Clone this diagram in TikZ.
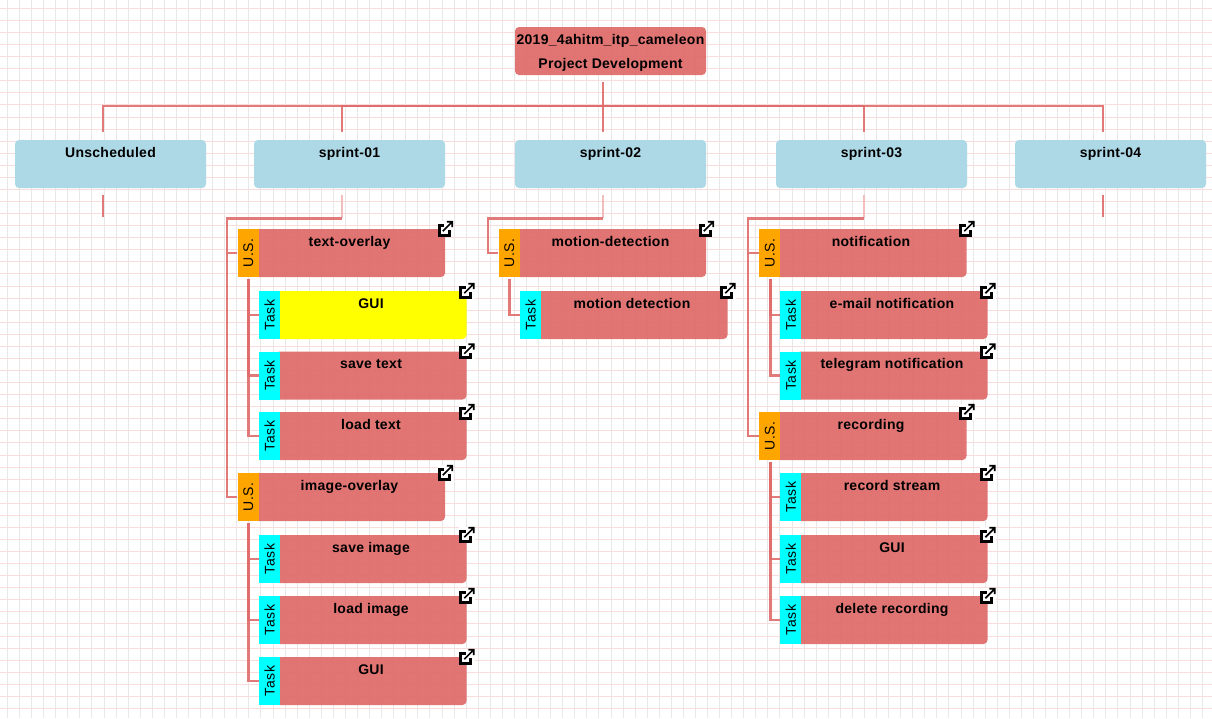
\documentclass[tikz,border=0pt]{standalone}
\usepackage{fontspec}
\setmainfont{Liberation Sans}
\usetikzlibrary{arrows.meta,calc}
\definecolor{cardred}{HTML}{DE6A68}
\definecolor{linkred}{HTML}{E06C6C}
\definecolor{sprintblue}{HTML}{ADD8E6}
\definecolor{usorange}{HTML}{FFA500}
\definecolor{taskcyan}{HTML}{00FFFF}
\definecolor{guiyellow}{HTML}{FFFF00}
\definecolor{gridgrey}{HTML}{E8E8E8}
\definecolor{gridpink}{HTML}{F9DCDC}
\newfontfamily\boldlabel[LetterSpace=2]{Liberation Sans Bold}
\newfontfamily\striplabel[LetterSpace=3]{Liberation Sans}
\tikzset{>=latex}
\tikzset{
  card/.style = {fill=cardred,fill opacity=0.92,text opacity=1,rounded corners=3pt,inner xsep=0pt,inner ysep=0.75pt,
    minimum width=143.25pt,text height=12pt,text depth=22.5pt,font=\boldlabel\fontsize{10.5}{12}\selectfont},
  head/.style = {card,fill=sprintblue,fill opacity=1},
  marked/.style = {fill=guiyellow,fill opacity=1},
  root/.style = {fill=cardred,fill opacity=0.92,text opacity=1,rounded corners=3pt,inner sep=0pt,minimum width=143.25pt,
    minimum height=36pt,align=center,font=\boldlabel\fontsize{10.5}{12}\selectfont},
  strip/.style = {rotate=90,inner sep=0pt,minimum width=36pt,minimum height=15.75pt,font=\striplabel\fontsize{10.5}{12}\selectfont},
  link/.style = {draw=linkred,line width=1.9pt,opacity=0.9},
  stub/.style = {draw=linkred,line width=0.5pt,double=linkred!45,double distance=0.8pt},
  extlink/.pic = {
    \fill [white] (-7.5,-8) rectangle (8.5,8);
    \draw [black,line width=2.3pt] (-1,-3.5) -- (-6,-3.5) -- (-6,6.5) -- (4,6.5) -- (4,1.5);
    \draw [black,line width=1.3pt] (-2.5,2.5) -- (7,-7) (1.5,-7) -- (7,-7) -- (7,-1.5);
  },
}
% one story or task: card with its coloured strip and its corner icon
\newcommand{\usbox}[4]{
  \node [card] (#1) at (#2,#3) {#4};
  \node [strip,fill=usorange] (#1tag) at ([xshift=-4.125pt]#1.west) {U.S.};
  \pic at (#1.north east) {extlink};
}
\newcommand{\task}[5][]{
  \node [card,#1] (#2) at (#3,#4) {#5};
  \node [strip,fill=taskcyan] (#2tag) at ([xshift=-4.125pt]#2.west) {Task};
  \pic at (#2.north east) {extlink};
}
\begin{document}
\begin{tikzpicture}[x=0.75pt,y=-0.75pt]
  \useasboundingbox (0,0) rectangle (1212,718);
  \fill [white] (0,0) rectangle (1212,718);
  % background grid
  \foreach \k in {0,...,100}
    \draw [gridgrey,line width=0.6pt] ({7.4+12.07*\k},0) -- ({7.4+12.07*\k},718);
  \foreach \k in {0,...,59}
    \draw [gridpink,line width=0.6pt] (0,{8.3+12.07*\k}) -- (1212,{8.3+12.07*\k});

  \node [root] (top) at (610.5,51) {\rule{0pt}{1.9ex}2019\_4ahitm\_itp\_cameleon\\[6pt]Project Development};
  \node [head] (unsched) at (110.5,164) {Unscheduled};
  \node [head] (sprinta) at (349.5,164) {sprint-01};
  \node [head] (sprintb) at (610.5,164) {sprint-02};
  \node [head] (sprintc) at (871.5,164) {sprint-03};
  \node [head] (sprintd) at (1110.5,164) {sprint-04};

  \usbox{textov}{349.5}{253}{text-overlay}
  \task[marked]{gui}{371}{315}{GUI}
  \task{savetext}{371}{375.5}{save text}
  \task{loadtext}{371}{436}{load text}
  \usbox{imageov}{349.5}{497}{image-overlay}
  \task{saveimage}{371}{559}{save image}
  \task{loadimage}{371}{620}{load image}
  \task{guib}{371}{681}{GUI}
  \usbox{motion}{610.5}{253}{motion-detection}
  \task{motiontask}{632}{315}{motion detection}
  \usbox{notify}{871}{253}{notification}
  \task{email}{892}{315}{e-mail notification}
  \task{telegram}{892}{375.5}{telegram notification}
  \usbox{recording}{871}{436}{recording}
  \task{stream}{892}{497}{record stream}
  \task{guic}{892}{559}{GUI}
  \task{delrec}{892}{620}{delete recording}

  % tree from the root to the sprints
  \coordinate (bus) at (603,106);
  \draw [link] ([shift={(-7.5,7)}]top.south) -- ([shift={(-7.5,-8)}]sprintb.north);
  \draw [link] ([shift={(-7.5,-8)}]unsched.north) |- (bus) -| ([shift={(-7.5,-8)}]sprintd.north);
  \draw [link] (bus) -| ([shift={(-7.5,-8)}]sprinta.north);
  \draw [link] (bus) -| ([shift={(-7.5,-8)}]sprintc.north);
  \draw [link,line width=1.4pt] ([shift={(-7.5,7)}]unsched.south) -- ([shift={(-7.5,29)}]unsched.south);
  \draw [link,line width=1.4pt] ([shift={(-7.5,7)}]sprintd.south) -- ([shift={(-7.5,29)}]sprintd.south);

  % sprint-01
  \coordinate (sa) at ([shift={(-7.5,30)}]sprinta.south);
  \draw [stub] ([shift={(-7.5,7)}]sprinta.south) -- (sa);
  \draw [link] (sa) -| (227,253) -- (textovtag.north);
  \draw [link] (227,253) |- (imageovtag.north);
  \draw [link] ([shift={(0.5,2)}]textovtag.west) |- (guitag.north);
  \draw [link] ([shift={(0.5,2)}]textovtag.west) |- (savetexttag.north);
  \draw [link] ([shift={(0.5,2)}]textovtag.west) |- (loadtexttag.north);
  \draw [link] ([shift={(0.5,2)}]imageovtag.west) |- (saveimagetag.north);
  \draw [link] ([shift={(0.5,2)}]imageovtag.west) |- (loadimagetag.north);
  \draw [link] ([shift={(0.5,2)}]imageovtag.west) |- (guibtag.north);

  % sprint-02
  \coordinate (sb) at ([shift={(-7.5,30)}]sprintb.south);
  \draw [stub] ([shift={(-7.5,7)}]sprintb.south) -- (sb);
  \draw [link] (sb) -| (488,253) -- (motiontag.north);
  \draw [link] ([shift={(0.5,2)}]motiontag.west) |- (motiontasktag.north);

  % sprint-03
  \coordinate (sc) at ([shift={(-7.5,30)}]sprintc.south);
  \draw [stub] ([shift={(-7.5,7)}]sprintc.south) -- (sc);
  \draw [link] (sc) -| (748,253) -- (notifytag.north);
  \draw [link] (748,253) |- (recordingtag.north);
  \draw [link] ([shift={(0.5,2)}]notifytag.west) |- (emailtag.north);
  \draw [link] ([shift={(0.5,2)}]notifytag.west) |- (telegramtag.north);
  \draw [link] ([shift={(0.5,2)}]recordingtag.west) |- (streamtag.north);
  \draw [link] ([shift={(0.5,2)}]recordingtag.west) |- (guictag.north);
  \draw [link] ([shift={(0.5,2)}]recordingtag.west) |- (delrectag.north);
\end{tikzpicture}
\end{document}
